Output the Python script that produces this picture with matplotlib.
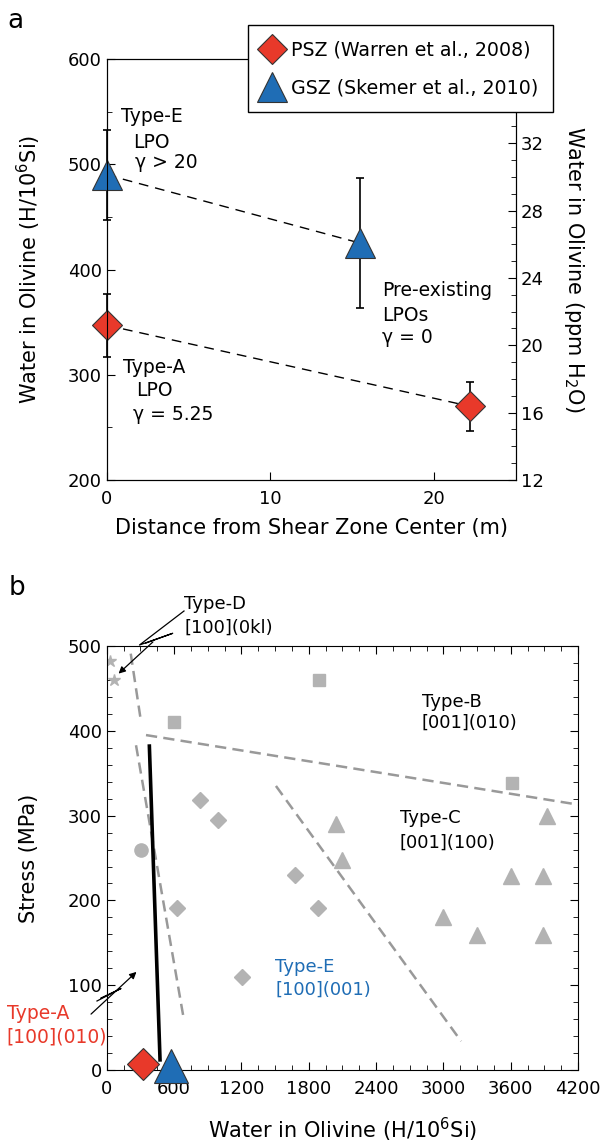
import numpy as np
import matplotlib
matplotlib.use('Agg')
import matplotlib.pyplot as plt
from matplotlib.ticker import MultipleLocator

plt.rcParams['font.family'] = ['DejaVu Sans']
plt.rcParams['mathtext.fontset'] = 'dejavusans'
plt.rcParams['mathtext.default'] = 'regular'

RED = '#e8392a'
BLUE = '#1f6db5'
GRAY = '#b3b3b3'
LGRAY = '#999999'

# ---- panel a data ----
psz_dist = [0, 22.2]
psz_water = [347, 270]
psz_err = [30, 23]
gsz_dist = [0, 15.5]
gsz_water = [490, 425]
gsz_err = [43, 62]

# ---- panel b data ----
stars_x = [29, 65]
stars_y = [482, 460]
squares_x = [600, 1895, 3610]
squares_y = [410, 460, 339]
diam_x = [832, 989, 629, 1203, 1678, 1886]
diam_y = [318, 295, 191, 110, 230, 191]
circ_x = [306]
circ_y = [259]
tri_x = [2044, 2094, 2995, 3300, 3601, 3891, 3891, 3922]
tri_y = [290, 248, 180, 159, 229, 229, 159, 299]
# boundaries
bD_x, bD_y = [214, 303], [491, 413]
bAE_x, bAE_y = [261, 683], [383, 63]
bB_x, bB_y = [350, 4200], [395, 313]
bC_x, bC_y = [1508, 3158], [335, 34]
this_x, this_y = [380, 475], [382, 12]
psz_b = (326, 7)
gsz_b = (570, 5)

fig = plt.figure(figsize=(6.04, 11.42), dpi=100)

# ================= panel a =================
ax = fig.add_axes([0.1767, 0.5797, 0.6776, 0.3686])
ax.plot(gsz_dist, gsz_water, color='black', lw=1, ls=(0, (7, 5)), zorder=1)
ax.plot(psz_dist, psz_water, color='black', lw=1, ls=(0, (7, 5)), zorder=1)
ax.errorbar(gsz_dist, gsz_water, yerr=gsz_err, fmt='none', ecolor='black',
            elinewidth=1.2, capsize=3, capthick=1.2, zorder=2, clip_on=False)
ax.errorbar(psz_dist, psz_water, yerr=psz_err, fmt='none', ecolor='black',
            elinewidth=1.2, capsize=3, capthick=1.2, zorder=2, clip_on=False)
h1, = ax.plot(psz_dist, psz_water, 'D', ms=15.5, mfc=RED, mec='#333333', mew=0.8,
              ls='none', clip_on=False, zorder=3, label='PSZ (Warren et al., 2008)')
h2, = ax.plot(gsz_dist, gsz_water, '^', ms=22, mfc=BLUE, mec='#333333', mew=0.8,
              ls='none', clip_on=False, zorder=3, label='GSZ (Skemer et al., 2010)')
ax.set_xlim(0, 25)
ax.set_ylim(200, 600)
ax.set_xticks([0, 10, 20])
ax.yaxis.set_major_locator(MultipleLocator(100))
ax.yaxis.set_minor_locator(MultipleLocator(50))
ax.tick_params(which='both', direction='in', labelsize=13, top=False, right=False)
ax.tick_params(which='major', length=6)
ax.tick_params(which='minor', length=3.5)
ax.tick_params(axis='x', pad=7)
ax.set_xlabel('Distance from Shear Zone Center (m)', fontsize=15)
ax.xaxis.set_label_coords(0.5, -0.114)
ax.xaxis.label.set_va('center')
ax.set_ylabel('Water in Olivine (H/10$^6$Si)', fontsize=15)
ax.yaxis.set_label_coords(-0.19, 0.5)
ax.yaxis.label.set_va('center')

ax2 = ax.twinx()
ax2.set_ylim(12, 37)
ax2.yaxis.set_major_locator(MultipleLocator(4))
ax2.yaxis.set_minor_locator(MultipleLocator(1))
ax2.set_yticks([12, 16, 20, 24, 28, 32])
ax2.tick_params(which='both', direction='in', labelsize=13)
ax2.tick_params(which='major', length=6)
ax2.tick_params(which='minor', length=3.5)
ax2.set_ylabel('Water in Olivine (ppm H$_2$O)', fontsize=15, rotation=270)
ax2.yaxis.set_label_coords(1.142, 0.5)
ax2.yaxis.label.set_va('center')

fs = 13.5
ax.text(0.9, 545, 'Type-E', fontsize=fs, va='center')
ax.text(1.6, 521, 'LPO', fontsize=fs, va='center')
ax.text(1.7, 502, '\u03b3 > 20', fontsize=fs, va='center')
ax.text(16.8, 380, 'Pre-existing', fontsize=fs, va='center')
ax.text(16.8, 356, 'LPOs', fontsize=fs, va='center')
ax.text(16.8, 335, '\u03b3 = 0', fontsize=fs, va='center')
ax.text(1.0, 307, 'Type-A', fontsize=fs, va='center')
ax.text(1.77, 285, 'LPO', fontsize=fs, va='center')
ax.text(1.6, 262, '\u03b3 = 5.25', fontsize=fs, va='center')

leg = fig.legend(handles=[h1, h2], loc='upper left', bbox_to_anchor=(0.4103, 0.9781),
                 fontsize=13.7, frameon=True, fancybox=False, borderpad=0.8,
                 handlelength=0.92, handletextpad=0.54, labelspacing=1.0,
                 borderaxespad=0, framealpha=1)
leg.get_frame().set_edgecolor('black')
leg.get_frame().set_linewidth(1)

fig.text(0.025, 0.982, 'a', fontsize=19, va='center', ha='center')

# ================= panel b =================
bx = fig.add_axes([0.1767, 0.0630, 0.7803, 0.3713])
bx.plot(bD_x, bD_y, color=LGRAY, lw=1.8, ls=(0, (4.5, 2.5)))
bx.plot(bAE_x, bAE_y, color=LGRAY, lw=1.8, ls=(0, (4.5, 2.5)))
bx.plot(bB_x, bB_y, color=LGRAY, lw=1.8, ls=(0, (4.5, 2.5)))
bx.plot(bC_x, bC_y, color=LGRAY, lw=1.8, ls=(0, (4.5, 2.5)))
bx.plot(this_x, this_y, color='black', lw=2.6)

bx.plot(stars_x, stars_y, '*', ms=9, color=GRAY, ls='none')
bx.plot(squares_x, squares_y, 's', ms=8.6, color=GRAY, ls='none')
bx.plot(diam_x, diam_y, 'D', ms=8, color=GRAY, ls='none')
bx.plot(circ_x, circ_y, 'o', ms=9.5, color=GRAY, ls='none')
bx.plot(tri_x, tri_y, '^', ms=11.5, color=GRAY, ls='none')

bx.plot(*psz_b, 'D', ms=16.5, mfc=RED, mec='#333333', mew=0.8, clip_on=False, zorder=5)
bx.plot(*gsz_b, '^', ms=24, mfc=BLUE, mec='#333333', mew=0.8, clip_on=False, zorder=5)

bx.set_xlim(0, 4200)
bx.set_ylim(0, 500)
bx.xaxis.set_major_locator(MultipleLocator(600))
bx.xaxis.set_minor_locator(MultipleLocator(150))
bx.yaxis.set_major_locator(MultipleLocator(100))
bx.yaxis.set_minor_locator(MultipleLocator(20))
bx.tick_params(which='both', direction='in', top=True, right=True, labelsize=13)
bx.tick_params(which='major', length=6)
bx.tick_params(which='minor', length=3.5)
bx.tick_params(axis='x', pad=7)
bx.set_xlabel('Water in Olivine (H/10$^6$Si)', fontsize=15)
bx.xaxis.set_label_coords(0.5, -0.1415)
bx.xaxis.label.set_va('center')
bx.set_ylabel('Stress (MPa)', fontsize=15)
bx.yaxis.set_label_coords(-0.165, 0.5)
bx.yaxis.label.set_va('center')

fs = 13
bx.text(690, 550, 'Type-D', fontsize=fs, va='center', clip_on=False)
bx.text(690, 521, '[100](0kl)', fontsize=fs, va='center', clip_on=False)
bx.text(2807, 434, 'Type-B', fontsize=fs, va='center')
bx.text(2807, 409, '[001](010)', fontsize=fs, va='center')
bx.text(2614, 297, 'Type-C', fontsize=fs, va='center')
bx.text(2608, 268, '[001](100)', fontsize=fs, va='center')
bx.text(1500, 121, 'Type-E', fontsize=fs, va='center', color=BLUE)
bx.text(1500, 95, '[100](001)', fontsize=fs, va='center', color=BLUE)
bx.text(-891, 67, 'Type-A', fontsize=13.5, va='center', color=RED, clip_on=False)
bx.text(-897, 39, '[100](010)', fontsize=13.5, va='center', color=RED, clip_on=False)

# callouts (figure pixel coords -> figure fraction)
W, H = 604.0, 1142.0
def fp(pts):
    return [p[0] / W for p in pts], [1 - p[1] / H for p in pts]

xs, ys = fp([(184, 611), (139.5, 645), (172.7, 633.3), (146, 643)])
fig.add_artist(plt.Line2D(xs, ys, color='black', lw=0.9))
fig.add_artist(matplotlib.patches.FancyArrowPatch(
    (155 / W, 1 - 640 / H), (116.5 / W, 1 - 675.5 / H), transform=fig.transFigure,
    arrowstyle='-|>', mutation_scale=10, color='black', lw=0.9))

xs, ys = fp([(97, 1001), (121, 988.5), (101, 998)])
fig.add_artist(plt.Line2D(xs, ys, color='black', lw=0.9))
fig.add_artist(matplotlib.patches.FancyArrowPatch(
    (89 / W, 1 - 1016 / H), (138.5 / W, 1 - 970 / H), transform=fig.transFigure,
    arrowstyle='-|>', mutation_scale=10, color='black', lw=0.9))

fig.text(0.028, 1 - 588 / H, 'b', fontsize=19, va='center', ha='center')

fig.savefig('out.png', dpi=100)
